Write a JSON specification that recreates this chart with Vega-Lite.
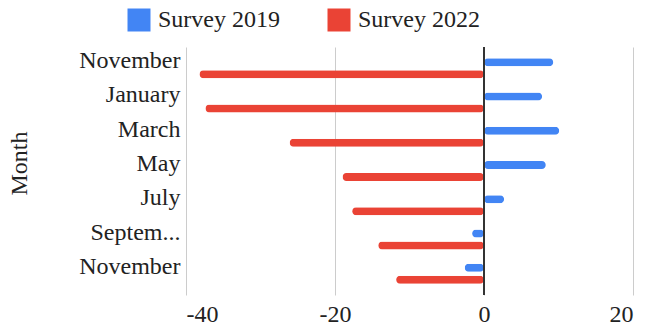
{
  "$schema": "https://vega.github.io/schema/vega-lite/v6.json",
  "width": 447,
  "height": 248,
  "autosize": {"type": "none"},
  "padding": {"left": 186, "top": 47, "right": 24, "bottom": 33},
  "config": {"font": "Liberation Serif", "view": {"stroke": null}},
  "data": {
    "values": [
      {"month": "November", "survey": "Survey 2019", "value": 9.3},
      {"month": "November", "survey": "Survey 2022", "value": -38.2},
      {"month": "January", "survey": "Survey 2019", "value": 7.8},
      {"month": "January", "survey": "Survey 2022", "value": -37.4},
      {"month": "March", "survey": "Survey 2019", "value": 10.1},
      {"month": "March", "survey": "Survey 2022", "value": -26.1},
      {"month": "May", "survey": "Survey 2019", "value": 8.3},
      {"month": "May", "survey": "Survey 2022", "value": -19.0},
      {"month": "July", "survey": "Survey 2019", "value": 2.7},
      {"month": "July", "survey": "Survey 2022", "value": -17.7},
      {"month": "September", "survey": "Survey 2019", "value": -1.6},
      {"month": "September", "survey": "Survey 2022", "value": -14.2},
      {"month": "November ", "survey": "Survey 2019", "value": -2.6},
      {"month": "November ", "survey": "Survey 2022", "value": -11.8}
    ]
  },
  "layer": [
    {
      "mark": {"type": "bar", "cornerRadius": 4},
      "encoding": {
        "y": {
          "field": "month",
          "type": "nominal",
          "sort": null,
          "scale": {"paddingInner": 0, "paddingOuter": 0.12},
          "axis": {
            "title": "Month",
            "labelFontSize": 24,
            "labelColor": "#222",
            "titleFontSize": 24,
            "titleFontWeight": "normal",
            "titleColor": "#222",
            "ticks": false,
            "domain": false,
            "labelPadding": 6,
            "labelOffset": -7,
            "titlePadding": 47,
            "titleY": 116,
            "labelExpr": "datum.label == 'September' ? 'Septem...' : datum.label"
          }
        },
        "x": {
          "field": "value",
          "type": "quantitative",
          "scale": {"domain": [-40, 20], "nice": false},
          "axis": {
            "title": null,
            "values": [-40, -20, 0, 20],
            "labelFontSize": 24,
            "labelColor": "#222",
            "ticks": false,
            "domain": false,
            "gridColor": "#cccccc",
            "labelPadding": 7,
            "labelExpr": "replace(datum.label, '\u2212', '-')"
          }
        },
        "yOffset": {
          "field": "survey",
          "type": "nominal",
          "scale": {"paddingInner": 0.333, "paddingOuter": 0.594}
        },
        "color": {
          "field": "survey",
          "type": "nominal",
          "scale": {"domain": ["Survey 2019", "Survey 2022"], "range": ["#4285F4", "#EA4335"]},
          "legend": {
            "title": null,
            "orient": "none",
            "legendX": -59,
            "legendY": -39,
            "direction": "horizontal",
            "padding": 0,
            "symbolType": "square",
            "symbolSize": 529,
            "symbolStrokeWidth": 0,
            "symbolOpacity": 1,
            "labelFontSize": 24,
            "labelColor": "#222",
            "labelOffset": 7,
            "columnPadding": 47
          }
        }
      }
    },
    {
      "mark": {"type": "rule", "color": "#333333", "strokeWidth": 2},
      "encoding": {"x": {"datum": 0}}
    }
  ]
}
